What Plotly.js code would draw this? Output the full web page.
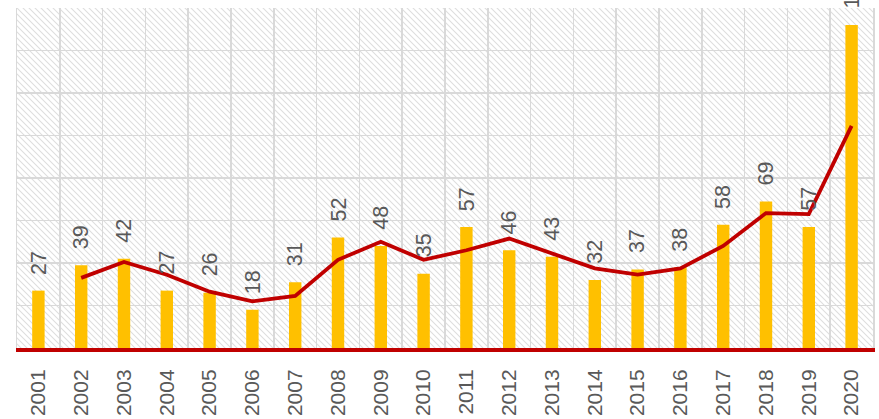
<!DOCTYPE html>
<html>
<head>
<meta charset="utf-8">
<script src="https://cdn.plot.ly/plotly-3.0.1.min.js"></script>
<style>
html,body{margin:0;padding:0;background:#fff;}
#chart{width:879px;height:419px;}
</style>
</head>
<body>
<div id="chart"></div>
<script>
const years = ['2001','2002','2003','2004','2005','2006','2007','2008','2009','2010',
               '2011','2012','2013','2014','2015','2016','2017','2018','2019','2020'];
const counts = [27,39,42,27,26,18,31,52,48,35,57,46,43,32,37,38,58,69,57,152];
const movingAvg = [null,33,40.5,34.5,26.5,22,24.5,41.5,50,41.5,46,51.5,44.5,37.5,34.5,37.5,48,63.5,63,104.5];
const yTicks = [0,20,40,60,80,100,120,140,160];

const hatchSvg = '<svg xmlns="http://www.w3.org/2000/svg" width="856" height="340">' +
  '<defs><pattern id="p" width="6" height="6" patternUnits="userSpaceOnUse">' +
  '<path d="M-1,-1 L7,7 M-1,5 L1,7 M5,-1 L7,1" stroke="#dedede" stroke-width="1.1"/>' +
  '</pattern></defs><rect width="856" height="340" fill="#ffffff"/>' +
  '<rect width="856" height="340" fill="url(#p)"/></svg>';

const bars = {
  type: 'bar', x: years, y: counts,
  marker: {color: '#FFC000'},
  hoverinfo: 'x+y', showlegend: false
};
const line = {
  type: 'scatter', mode: 'lines', x: years, y: movingAvg,
  line: {color: '#C00000', width: 3.8},
  connectgaps: false, showlegend: false
};

// category axis: annotations positioned by category index
const annotations = years.map((yr, i) => ({
  x: i, y: counts[i], xref: 'x', yref: 'y',
  text: String(counts[i]), showarrow: false, textangle: -90,
  xanchor: 'center', yanchor: 'bottom', yshift: 14,
  font: {family: 'Liberation Sans, Arial, sans-serif', size: 21.5, color: '#595959'}
}));

const layout = {
  width: 879, height: 419,
  margin: {l: 17, r: 6, t: 8, b: 71, pad: 0},
  paper_bgcolor: '#ffffff',
  plot_bgcolor: 'rgba(0,0,0,0)',
  bargap: 0.71,
  xaxis: {
    type: 'category', tickson: 'boundaries', range: [-0.5, 19.5],
    showgrid: true, gridcolor: '#d9d9d9', gridwidth: 1.5,
    showline: true, linecolor: '#C00000', linewidth: 4,
    ticks: '', tickangle: -90, ticklabelstandoff: 9,
    tickfont: {family: 'Liberation Sans, Arial, sans-serif', size: 21, color: '#595959'},
    fixedrange: true
  },
  yaxis: {
    range: [0, 160], tickvals: yTicks, showticklabels: false,
    showgrid: true, gridcolor: '#d9d9d9', gridwidth: 1.5,
    zeroline: false, showline: true, mirror: true, linecolor: '#d9d9d9', linewidth: 1.5,
    fixedrange: true
  },
  images: [{
    source: 'data:image/svg+xml;charset=utf-8,' + encodeURIComponent(hatchSvg),
    xref: 'paper', yref: 'paper', x: 0, y: 1, sizex: 1, sizey: 1,
    xanchor: 'left', yanchor: 'top', sizing: 'stretch', layer: 'below'
  }],
  annotations: annotations,
  showlegend: false
};

Plotly.newPlot('chart', [bars, line], layout, {displayModeBar: false, staticPlot: true});
</script>
</body>
</html>
